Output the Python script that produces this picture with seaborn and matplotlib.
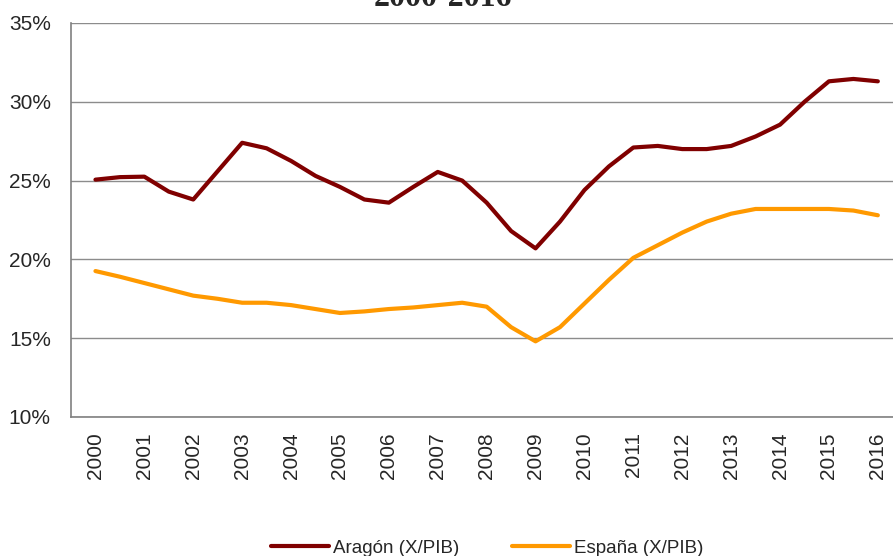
import pandas as pd
import seaborn as sns
import matplotlib.pyplot as plt
from matplotlib.ticker import FixedLocator, FuncFormatter

# datos semestrales (X/PIB, %)
periodos = [2000, 2000.5, 2001, 2001.5, 2002, 2002.5, 2003, 2003.5, 2004, 2004.5,
            2005, 2005.5, 2006, 2006.5, 2007, 2007.5, 2008, 2008.5, 2009, 2009.5,
            2010, 2010.5, 2011, 2011.5, 2012, 2012.5, 2013, 2013.5, 2014, 2014.5,
            2015, 2015.5, 2016]

aragon = [25.06, 25.22, 25.25, 24.3, 23.8, 25.6, 27.4, 27.05, 26.25, 25.3,
          24.6, 23.8, 23.6, 24.6, 25.55, 25.0, 23.6, 21.8, 20.7, 22.4,
          24.4, 25.9, 27.1, 27.2, 27.0, 27.0, 27.2, 27.8, 28.55, 30.0,
          31.3, 31.45, 31.3]

espana = [19.26, 18.9, 18.5, 18.1, 17.7, 17.5, 17.25, 17.25, 17.1, 16.85,
          16.6, 16.7, 16.85, 16.95, 17.1, 17.25, 17.0, 15.7, 14.8, 15.7,
          17.2, 18.7, 20.1, 20.9, 21.7, 22.4, 22.9, 23.2, 23.2, 23.2,
          23.2, 23.1, 22.8]

anios = list(range(2000, 2017))
series = ["Aragón (X/PIB)", "España (X/PIB)"]
colores = ["#800000", "#FF9900"]

df = pd.DataFrame({
    "periodo": periodos * 2,
    "valor": aragon + espana,
    "serie": [series[0]] * len(aragon) + [series[1]] * len(espana),
})

sns.set_style("white")
plt.rcParams["font.family"] = ["Liberation Sans", "DejaVu Sans"]

fig = plt.figure(figsize=(8.93, 5.56), dpi=100)
ax = fig.add_axes([71 / 893, 1 - 417 / 556, 1 - 71 / 893, (417 - 23) / 556])

sns.lineplot(data=df, x="periodo", y="valor", hue="serie", palette=colores,
             linewidth=3, ax=ax, legend=True)

# ejes
ax.set_ylim(10, 35)
ax.set_yticks([10, 15, 20, 25, 30, 35])
ax.yaxis.set_major_formatter(FuncFormatter(lambda v, p: f"{v:.0f}%"))
ax.set_xlim(1999.5, 1999.5 + 822 / 48.9)
ax.xaxis.set_major_locator(FixedLocator([a - 0.5 for a in anios] + [2016.5]))
ax.xaxis.set_major_formatter(FuncFormatter(lambda v, p: ""))
ax.xaxis.set_minor_locator(FixedLocator(anios))
ax.xaxis.set_minor_formatter(FuncFormatter(lambda v, p: f"{int(round(v))}"))
ax.tick_params(axis="x", which="minor", length=0, labelsize=15, rotation=90, pad=11)
ax.tick_params(axis="x", which="major", length=6, color="#808080", direction="out")
ax.tick_params(axis="y", length=6, color="#333333", labelsize=15, pad=8.5, direction="out")
ax.set_xlabel("")
ax.set_ylabel("")

ax.grid(axis="y", color="#8c8c8c", linewidth=1)
ax.grid(axis="x", visible=False)
for lado in ["top", "right"]:
    ax.spines[lado].set_visible(False)
for lado in ["left", "bottom"]:
    ax.spines[lado].set_color("#808080")
    ax.spines[lado].set_linewidth(1.2)

# leyenda abajo
handles, labels = ax.get_legend_handles_labels()
ax.get_legend().remove()
fig.legend(handles, labels, loc="center", bbox_to_anchor=(487 / 893, 1 - 548 / 556),
           ncol=2, frameon=False, fontsize=13.5, handlelength=3.1,
           handletextpad=0.2, columnspacing=2.8)

# titulo cortado arriba, como en el original
fig.text(0.496, 1 - 6 / 556, "2000-2016", ha="center", va="baseline",
         fontsize=23, fontweight="bold", family=["Liberation Serif", "DejaVu Serif"])

fig.savefig("out.png", dpi=100)
